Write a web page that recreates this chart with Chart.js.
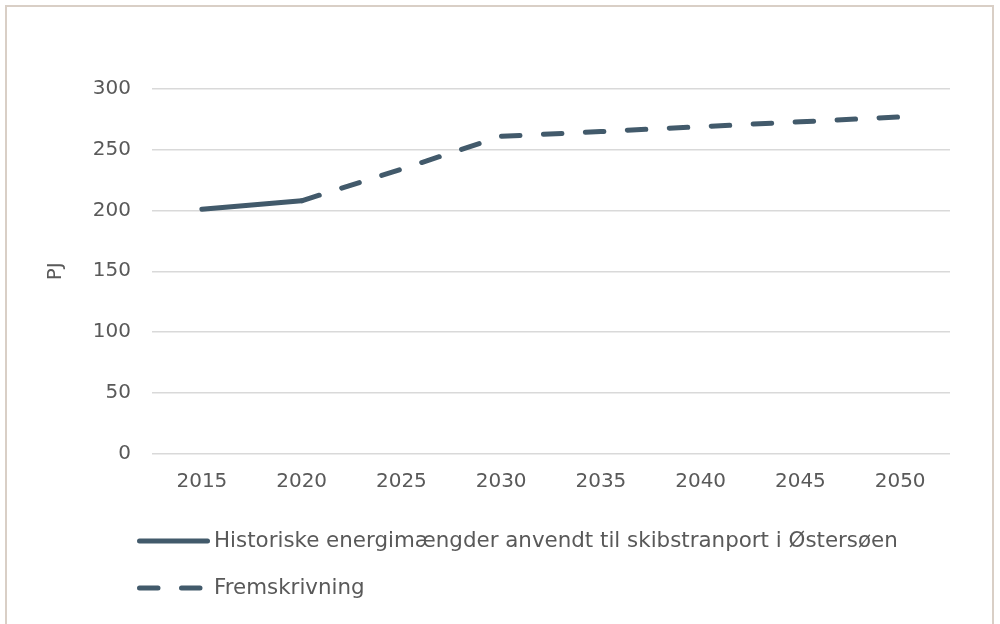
<!DOCTYPE html>
<html>
<head>
<meta charset="utf-8">
<script src="https://cdn.jsdelivr.net/npm/chart.js@4"></script>
<style>
  html, body { margin: 0; padding: 0; background: #ffffff; }
  #wrap { position: absolute; left: 0; top: 0; width: 1000px; height: 624px; overflow: hidden; }
  #frame { position: absolute; left: 5px; top: 5px; width: 989px; height: 700px; box-sizing: border-box;
           border: 2px solid #d9cfc6; pointer-events: none; }
  canvas { position: absolute; left: 0; top: 0; }
</style>
</head>
<body>
<div id="wrap">
  <canvas id="c" width="1000" height="624"></canvas>
  <div id="frame"></div>
</div>
<script>
// ---- data ----
const years = ['2015', '2020', '2025', '2030', '2035', '2040', '2045', '2050'];
const historicLabel = 'Historiske energimængder anvendt til skibstranport i Østersøen';
const projectionLabel = 'Fremskrivning';
const historic   = [201, 208, null, null, null, null, null, null];
const projection = [null, 208, 234, 261, 265, 269, 273, 277];
const yTicks = [0, 50, 100, 150, 200, 250, 300];
const yTitle = 'PJ';

// ---- style ----
const lineColor = '#425a6b';
const textColor = '#595959';
const gridColor = '#d9d9d9';
const fontFamily = '"DejaVu Sans", Verdana, sans-serif';
const dashPattern = [18.5, 23.5];
const lw = 5;

const legendPlugin = {
  id: 'stackedLegend',
  afterDraw(chart) {
    const ctx = chart.ctx;
    const rows = [541, 588];
    const x0 = 139.5, x1 = 207.5;
    ctx.save();
    chart.data.datasets.forEach((ds, i) => {
      const y = rows[i];
      ctx.beginPath();
      ctx.strokeStyle = ds.borderColor;
      ctx.lineWidth = ds.borderWidth;
      ctx.lineCap = 'round';
      ctx.setLineDash(ds.borderDash || []);
      ctx.moveTo(x0, y);
      ctx.lineTo(x1, y);
      ctx.stroke();
      ctx.setLineDash([]);
      ctx.fillStyle = textColor;
      ctx.font = '21.4px ' + fontFamily;
      ctx.textBaseline = 'middle';
      ctx.textAlign = 'left';
      ctx.fillText(ds.label, 214, y);
    });
    ctx.restore();
  }
};

new Chart(document.getElementById('c'), {
  type: 'line',
  data: {
    labels: years,
    datasets: [
      {
        label: historicLabel,
        data: historic,
        borderColor: lineColor,
        backgroundColor: lineColor,
        borderWidth: lw,
        borderCapStyle: 'round',
        borderJoinStyle: 'round',
        pointRadius: 0,
        pointHoverRadius: 0,
        tension: 0,
        order: 1
      },
      {
        label: projectionLabel,
        data: projection,
        borderColor: lineColor,
        backgroundColor: lineColor,
        borderWidth: lw,
        borderDash: dashPattern,
        borderCapStyle: 'round',
        borderJoinStyle: 'round',
        pointRadius: 0,
        pointHoverRadius: 0,
        tension: 0,
        order: 2
      }
    ]
  },
  options: {
    responsive: false,
    animation: false,
    events: [],
    layout: { padding: { left: 30, right: 50, top: 89, bottom: 130 } },
    plugins: {
      legend: { display: false },
      tooltip: { enabled: false },
      title: { display: false }
    },
    scales: {
      x: {
        offset: true,
        grid: { display: false, drawTicks: false },
        border: { display: false },
        ticks: { color: textColor, font: { family: fontFamily, size: 20 }, padding: 16, maxRotation: 0 },
        afterFit(s) { s.height = 40.5; }
      },
      y: {
        min: 0,
        max: 300,
        afterBuildTicks(s) { s.ticks = yTicks.map(v => ({ value: v })); },
        grid: { color: gridColor, lineWidth: 1.5, drawTicks: false },
        border: { display: false },
        ticks: { color: textColor, font: { family: fontFamily, size: 20 }, padding: 21 },
        title: { display: true, text: yTitle, color: textColor, font: { family: fontFamily, size: 20 }, padding: { top: 14, bottom: 0 } },
        afterFit(s) { s.width = 122; }
      }
    }
  },
  plugins: [legendPlugin]
});
</script>
</body>
</html>
